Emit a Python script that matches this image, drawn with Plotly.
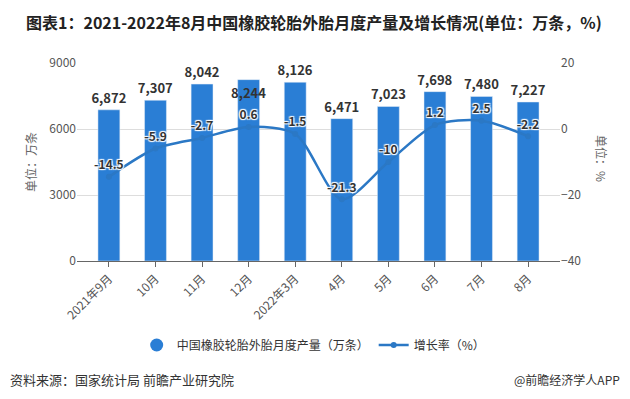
import plotly.graph_objects as go

categories = ["2021年9月", "10月", "11月", "12月", "2022年3月", "4月", "5月", "6月", "7月", "8月"]
production = [6872, 7307, 8042, 8244, 8126, 6471, 7023, 7698, 7480, 7227]
growth = [-14.5, -5.9, -2.7, 0.6, -1.5, -21.3, -10, 1.2, 2.5, -2.2]
growth_labels = ["-14.5", "-5.9", "-2.7", "0.6", "-1.5", "-21.3", "-10", "1.2", "2.5", "-2.2"]
left_ticks = [0, 3000, 6000, 9000]
right_ticks = [-40, -20, 0, 20]

FONT = "Noto Sans CJK SC"
BAR_COLOR = "#2a7ed5"
LINE_COLOR = "#2b78c5"
x_idx = list(range(len(categories)))
# the 12月 value label sits inside the top of its bar in the reference
bar_text_pos = ["inside" if c == "12月" else "outside" for c in categories]

fig = go.Figure()
fig.add_trace(go.Bar(
    x=x_idx, y=production, name="中国橡胶轮胎外胎月度产量（万条）",
    marker=dict(color=BAR_COLOR), width=0.47, showlegend=False,
    texttemplate="%{y:,}", textposition=bar_text_pos, insidetextanchor="end", textangle=0,
    cliponaxis=False, constraintext="none",
    textfont=dict(family=FONT, size=13, color="#333333", weight="bold"),
    insidetextfont=dict(family=FONT, size=13, color="#333333", weight="bold"),
    outsidetextfont=dict(family=FONT, size=13, color="#333333", weight="bold"),
))
# legend entry with round marker for the bar series
fig.add_trace(go.Scatter(
    x=[None], y=[None], mode="markers", name="中国橡胶轮胎外胎月度产量（万条）",
    marker=dict(symbol="circle", size=13, color=BAR_COLOR),
))
fig.add_trace(go.Scatter(
    x=x_idx, y=growth, yaxis="y2", name="增长率（%）",
    mode="lines+markers+text", line=dict(color=LINE_COLOR, width=2.5, shape="spline", smoothing=0.8),
    marker=dict(size=6, color=LINE_COLOR),
    text=growth_labels, textposition="top center", cliponaxis=False,
    textfont=dict(family=FONT, size=12, color="#333333", weight="bold",
                  shadow="1px 1px 1px #fff, -1px -1px 1px #fff, 1px -1px 1px #fff, -1px 1px 1px #fff"),
))

fig.update_layout(
    width=630, height=399,
    margin=dict(l=77, r=70, t=63, b=138, autoexpand=False),
    paper_bgcolor="white", plot_bgcolor="white",
    font=dict(family=FONT, size=12, color="#666666"),
    hovermode=False,
    xaxis=dict(
        range=[-0.685, 9.685], tickmode="array", tickvals=x_idx, ticktext=categories,
        tickangle=-45, ticks="outside", ticklen=5, tickcolor="#666666", automargin=False,
        showline=True, linecolor="#666666", linewidth=1, showgrid=False,
        tickfont=dict(family=FONT, size=12, color="#555555"),
    ),
    yaxis=dict(
        range=[0, 9000], tickvals=left_ticks, showgrid=True, gridcolor="#dddddd", automargin=False,
        zeroline=False, showline=False, ticks="", tickfont=dict(family=FONT, size=12, color="#555555"),
    ),
    yaxis2=dict(
        range=[-40, 20], tickvals=right_ticks, overlaying="y", side="right", automargin=False,
        showgrid=False, zeroline=False, showline=False, ticks="",
        tickfont=dict(family=FONT, size=12, color="#555555"),
    ),
    legend=dict(
        orientation="h", x=0.49, xanchor="center", y=(261 - 345) / 198, yanchor="middle",
        font=dict(family=FONT, size=12, color="#333333"),
        traceorder="normal",
    ),
    showlegend=True,
)

fig.add_annotation(
    text="<b>图表1：2021-2022年8月中国橡胶轮胎外胎月度产量及增长情况(单位：万条，%)</b>",
    xref="paper", yref="paper", x=(24 - 77) / 483, y=(261 - 22) / 198,
    showarrow=False, xanchor="left", yanchor="middle",
    font=dict(family=FONT, size=16, color="#222222"),
)
fig.add_annotation(
    text="单位：万条", xref="paper", yref="paper", x=(30 - 77) / 483, y=0.5,
    textangle=-90, showarrow=False, xanchor="center", yanchor="middle",
    font=dict(family=FONT, size=12, color="#666666"),
)
fig.add_annotation(
    text="单位：%", xref="paper", yref="paper", x=(602 - 77) / 483, y=(261 - 158) / 198,
    textangle=90, showarrow=False, xanchor="center", yanchor="middle",
    font=dict(family=FONT, size=12, color="#666666"),
)
fig.add_annotation(
    text="资料来源：国家统计局 前瞻产业研究院", xref="paper", yref="paper",
    x=(8 - 77) / 483, y=(261 - 379) / 198, showarrow=False, xanchor="left", yanchor="middle",
    font=dict(family=FONT, size=13, color="#333333"),
)
fig.add_annotation(
    text="@前瞻经济学人APP", xref="paper", yref="paper",
    x=(622 - 77) / 483, y=(261 - 379) / 198, showarrow=False, xanchor="right", yanchor="middle",
    font=dict(family=FONT, size=12, color="#333333"),
)

fig.write_html("out.html", config={"displayModeBar": False},
               post_script="document.body.style.margin='0';")
